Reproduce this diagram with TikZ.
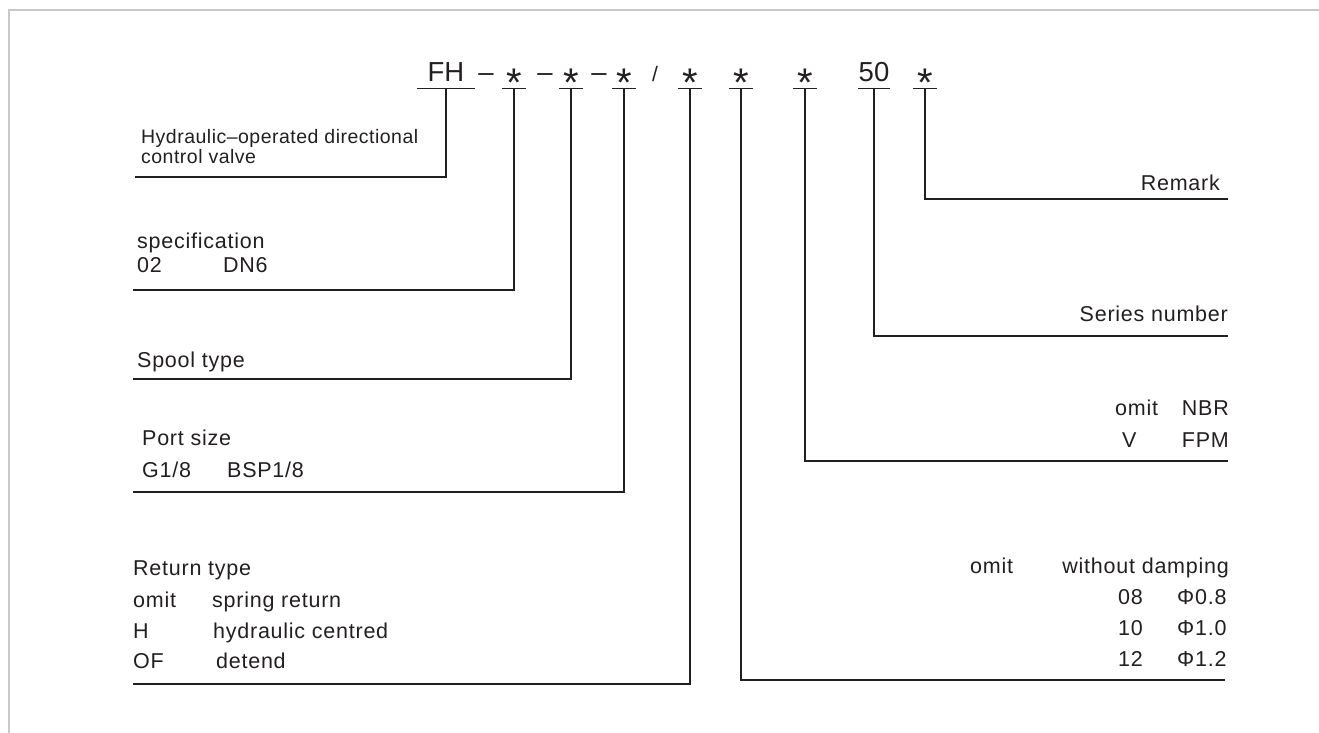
\documentclass[tikz,border=0pt]{standalone}
\usepackage{fontspec}
\setmainfont{Liberation Sans}
\newfontfamily\lblfont[LetterSpace=3.5]{Liberation Sans}
\newfontfamily\titlefont[LetterSpace=2.5]{Liberation Sans}
\usepackage{tikz}
\definecolor{ink}{HTML}{231F20}
\definecolor{framegray}{HTML}{C8C8C8}
\newcommand{\cstar}{\raisebox{-15pt}[14pt][0pt]{\fontsize{40pt}{40pt}\selectfont *}}
\tikzset{
  code/.style={font=\fontsize{27.5pt}{30pt}\selectfont, text=ink, anchor=base, inner xsep=0pt, inner ysep=6pt, text depth=0pt, minimum width=23pt},
  sep/.style={font=\fontsize{27.5pt}{30pt}\selectfont, text=ink, anchor=base, inner sep=0pt},
  lbl/.style={font=\lblfont\fontsize{21.5pt}{24pt}\selectfont, text=ink, anchor=base west, inner sep=0pt},
  rlbl/.style={lbl, anchor=base east},
  tlbl/.style={lbl, font=\titlefont\fontsize{19.5pt}{22pt}\selectfont},
  lead/.style={draw=ink, line width=1.1pt}
}
\begin{document}
\begin{tikzpicture}[x=1pt, y=-1pt]
    \useasboundingbox (0,0) rectangle (1319,733);
    \draw[framegray, line width=2pt] (9,733) -- (9,10) -- (1319,10);
    \path (446,82) node[code, minimum width=57pt] (fh) {FH}
          (486,82) node[sep] (d1) {–}
          (514,82) node[code] (s1) {\cstar}
          (545,82) node[sep] (d2) {–}
          (571,82) node[code] (s2) {\cstar}
          (599,82) node[sep] (d3) {–}
          (624,82) node[code] (s3) {\cstar}
          (655,82) node[sep, font=\fontsize{21pt}{24pt}\selectfont] (sl) {/}
          (690,82) node[code] (s4) {\cstar}
          (741,82) node[code] (s5) {\cstar}
          (805,82) node[code] (s6) {\cstar}
          (874,82) node[code, minimum width=32pt] (sn) {50}
          (925,82) node[code] (s7) {\cstar};
    \path (135,177) coordinate (fhend) (133,290) coordinate (s1end)
          (133,379) coordinate (s2end) (133,492) coordinate (s3end)
          (133,684) coordinate (s4end) (1225,680) coordinate (s5end)
          (1228,461) coordinate (s6end) (1228,336) coordinate (snend)
          (1228,199) coordinate (s7end);
    \foreach \c in {fh,s1,s2,s3,s4,s5,s6,sn,s7}
        \draw[lead] (\c.south west) -- (\c.south east) (\c.south) |- (\c end);
    \path (141,143) node[tlbl] (hyda) {Hydraulic–operated directional}
          (141,163) node[tlbl] (hydb) {control valve}
          (137,248) node[lbl] (spec) {specification}
          (137,272) node[lbl] (speca) {02}
          (223,272) node[lbl] (specb) {DN6}
          (137,367) node[lbl] (spool) {Spool type}
          (142,445) node[lbl] (port) {Port size}
          (142,477) node[lbl] (porta) {G1/8}
          (227,477) node[lbl] (portb) {BSP1/8}
          (133,575) node[lbl] (ret) {Return type}
          (133,607) node[lbl] (reta) {omit}
          (212,607) node[lbl] (retb) {spring return}
          (133,638) node[lbl] (retc) {H}
          (213,638) node[lbl] (retd) {hydraulic centred}
          (133,668) node[lbl] (rete) {OF}
          (216,668) node[lbl] (retf) {detend};
    \path (1220,190) node[rlbl] (rem) {Remark}
          (1228,321) node[rlbl] (ser) {Series number}
          (1115,415) node[lbl] (seala) {omit}
          (1229,415) node[rlbl] (sealb) {NBR}
          (1122,447) node[lbl] (sealc) {V}
          (1229,447) node[rlbl] (seald) {FPM}
          (970,573) node[lbl] (dama) {omit}
          (1229,573) node[rlbl] (damb) {without damping}
          (1118,604) node[lbl] (damc) {08}
          (1177,604) node[lbl] (damd) {Φ0.8}
          (1118,635) node[lbl] (dame) {10}
          (1177,635) node[lbl] (damf) {Φ1.0}
          (1118,666) node[lbl] (damg) {12}
          (1177,666) node[lbl] (damh) {Φ1.2};
\end{tikzpicture}
\end{document}
